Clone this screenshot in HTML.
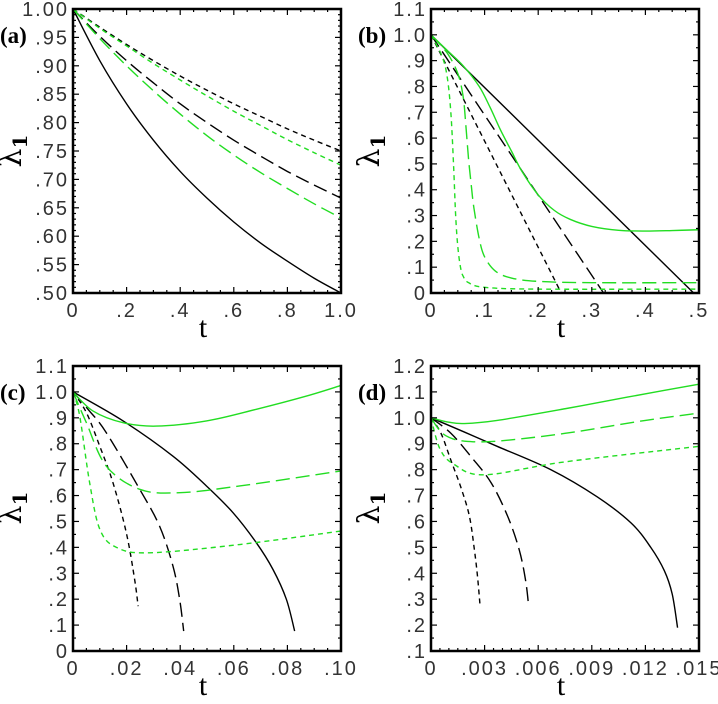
<!DOCTYPE html>
<html><head><meta charset="utf-8">
<style>
html,body{margin:0;padding:0;background:#fff;}
</style></head>
<body>
<svg id="fig" width="718" height="699" xmlns="http://www.w3.org/2000/svg" style="font-family:'Liberation Sans',sans-serif">
</svg>
<script>
// ---- Panel (a) data ----
const aT = [0,0.1,0.2,0.3,0.4,0.5,0.6,0.7,0.8,0.9,1.0];
const aBlackSolid = [1,0.909,0.833,0.769,0.714,0.667,0.625,0.588,0.556,0.526,0.5];
const aBlackLong = [1,0.952,0.909,0.870,0.833,0.800,0.769,0.741,0.714,0.690,0.667];
const aBlackShort = [1,0.968,0.9375,0.909,0.882,0.857,0.833,0.811,0.789,0.769,0.75];
const aGreenLong = [1,0.948,0.90,0.856,0.815,0.777,0.743,0.712,0.684,0.657,0.632];
const aGreenShort = [1,0.966,0.935,0.904,0.875,0.847,0.82,0.795,0.77,0.747,0.725];
// ---- Panel (b) data ----
const bBlackSolidT = [0,0.49]; const bBlackSolid = [1,0];
const bBlackLongT = [0,0.322]; const bBlackLong = [1,0];
const bBlackShortT = [0,0.243]; const bBlackShort = [1,0];
const bGreenSolidT = [0,0.03,0.06,0.09,0.11,0.13,0.15,0.17,0.2,0.23,0.26,0.3,0.35,0.4,0.45,0.5];
const bGreenSolid = [1,0.94,0.88,0.8,0.72,0.63,0.55,0.47,0.38,0.32,0.285,0.258,0.243,0.24,0.242,0.245];
const bGreenLongT = [0,0.03,0.05,0.06,0.065,0.07,0.075,0.08,0.09,0.1,0.12,0.15,0.2,0.3,0.5];
const bGreenLong = [1,0.93,0.85,0.76,0.65,0.52,0.42,0.33,0.21,0.14,0.085,0.058,0.045,0.04,0.04];
const bGreenShortT = [0,0.02,0.03,0.037,0.042,0.046,0.05,0.055,0.06,0.07,0.1,0.2,0.5];
const bGreenShort = [1,0.92,0.84,0.7,0.5,0.3,0.18,0.1,0.065,0.04,0.022,0.015,0.015];
// ---- Panel (c) data ----
const cGreenSolidT = [0,0.0075,0.0187,0.0311,0.0498,0.0684,0.0871,0.1];
const cGreenSolid = [1,0.926,0.881,0.868,0.888,0.933,0.984,1.025];
const cGreenLongT = [0,0.005,0.0124,0.0249,0.0398,0.0622,0.1];
const cGreenLong = [1,0.881,0.714,0.624,0.611,0.637,0.695];
const cGreenShortT = [0,0.0025,0.0062,0.01,0.0162,0.0286,0.0622,0.1];
const cGreenShort = [1,0.907,0.65,0.47,0.40,0.379,0.411,0.463];
const cBlackSolidT = [0,0.0187,0.0373,0.0498,0.0597,0.0684,0.0746,0.0796,0.0827];
const cBlackSolid = [1,0.888,0.752,0.637,0.534,0.418,0.315,0.20,0.077];
const cBlackLongT = [0,0.0056,0.0124,0.0249,0.0323,0.0373,0.0398,0.0413];
const cBlackLong = [1,0.933,0.843,0.624,0.482,0.328,0.199,0.077];
const cBlackShortT = [0,0.005,0.01,0.0149,0.0199,0.023,0.0243];
const cBlackShort = [1,0.92,0.79,0.65,0.456,0.276,0.173];
// ---- Panel (d) data ----
const dGreenSolidT = [0,0.001,0.00187,0.0037,0.0075,0.011,0.013,0.015];
const dGreenSolid = [1,0.983,0.978,0.99,1.035,1.08,1.105,1.13];
const dGreenLongT = [0,0.0005,0.001,0.00187,0.0037,0.0075,0.012,0.015];
const dGreenLong = [1,0.95,0.925,0.91,0.91,0.94,0.99,1.018];
const dGreenShortT = [0,0.0005,0.0013,0.003,0.0075,0.015];
const dGreenShort = [1,0.88,0.82,0.78,0.83,0.89];
const dBlackSolidT = [0,0.00187,0.0037,0.0067,0.0093,0.0112,0.0123,0.01306,0.0135,0.0138];
const dBlackSolid = [1,0.945,0.89,0.80,0.695,0.594,0.50,0.41,0.32,0.19];
const dBlackLongT = [0,0.00112,0.00224,0.00336,0.00429,0.00494,0.0053,0.00547];
const dBlackLong = [1,0.94,0.85,0.75,0.62,0.49,0.37,0.27];
const dBlackShortT = [0,0.00056,0.00112,0.00168,0.00215,0.00243,0.0026,0.00274];
const dBlackShort = [1,0.94,0.835,0.73,0.62,0.49,0.39,0.28];
// ---- tick labels ----
const aXTicks = [0,0.2,0.4,0.6,0.8,1.0]; const aXLabels = ["0",".2",".4",".6",".8","1.0"];
const aYTicks = [0.5,0.55,0.6,0.65,0.7,0.75,0.8,0.85,0.9,0.95,1.0];
const aYLabels = [".50",".55",".60",".65",".70",".75",".80",".85",".90",".95","1.00"];
const bXTicks = [0,0.1,0.2,0.3,0.4,0.5]; const bXLabels = ["0",".1",".2",".3",".4",".5"];
const bYTicks = [0,0.1,0.2,0.3,0.4,0.5,0.6,0.7,0.8,0.9,1.0,1.1];
const bYLabels = ["0",".1",".2",".3",".4",".5",".6",".7",".8",".9","1.0","1.1"];
const cXTicks = [0,0.02,0.04,0.06,0.08,0.1]; const cXLabels = ["0",".02",".04",".06",".08",".10"];
const cYTicks = bYTicks; const cYLabels = bYLabels;
const dXTicks = [0,0.003,0.006,0.009,0.012,0.015]; const dXLabels = ["0",".003",".006",".009",".012",".015"];
const dYTicks = [0.1,0.2,0.3,0.4,0.5,0.6,0.7,0.8,0.9,1.0,1.1,1.2];
const dYLabels = [".1",".2",".3",".4",".5",".6",".7",".8",".9","1.0","1.1","1.2"];

const NS = "http://www.w3.org/2000/svg";
const svg = document.getElementById('fig');
function mk(tag, attrs, parent){
  const e = document.createElementNS(NS, tag);
  for (const k in attrs) e.setAttribute(k, attrs[k]);
  (parent||svg).appendChild(e); return e;
}
const GREEN = "#22dd22";
const LONG = "14 6", SHORT = "5 4";

function smoothPath(pts){
  let d = 'M' + pts[0][0].toFixed(2) + ' ' + pts[0][1].toFixed(2);
  if (pts.length < 3){ for (let i=1;i<pts.length;i++) d += ' L' + pts[i][0].toFixed(2) + ' ' + pts[i][1].toFixed(2); return d; }
  for (let i=0;i<pts.length-1;i++){
    const p0 = pts[i-1]||pts[i], p1 = pts[i], p2 = pts[i+1], p3 = pts[i+2]||p2;
    const c1 = [p1[0]+(p2[0]-p0[0])/6, p1[1]+(p2[1]-p0[1])/6];
    const c2 = [p2[0]-(p3[0]-p1[0])/6, p2[1]-(p3[1]-p1[1])/6];
    d += ' C' + c1[0].toFixed(2)+' '+c1[1].toFixed(2)+' '+c2[0].toFixed(2)+' '+c2[1].toFixed(2)+' '+p2[0].toFixed(2)+' '+p2[1].toFixed(2);
  }
  return d;
}

function panel(key, label, box, xr, yr, xT, xL, yT, yL, xMinor, yMinor, series){
  const g = mk('g', {});
  
  
  const X = v => box.x0 + (v - xr[0]) / (xr[1] - xr[0]) * (box.x1 - box.x0);
  const Y = v => box.y1 - (v - yr[0]) / (yr[1] - yr[0]) * (box.y1 - box.y0);
  series.forEach(s => {
    const pts = s.t.map((t,i) => [X(t), Y(s.v[i])]);
    const p = mk('path', {d: smoothPath(pts), fill: 'none', stroke: s.c, 'stroke-width': 1.4, 'stroke-dasharray': s.dash || 'none'}, g);
    
    
  });
  const tk = mk('g', {stroke: '#000', 'stroke-width': 1.2}, g);
  
  
  for (let v = xr[0]; v <= xr[1] + 1e-9; v += xMinor){
    const x = X(v), major = xT.some(m => Math.abs(m - v) < xMinor/10), L = major ? 6 : 3;
    mk('line', {x1: x, x2: x, y1: box.y1, y2: box.y1 - L}, tk);
    mk('line', {x1: x, x2: x, y1: box.y0, y2: box.y0 + L}, tk);
  }
  for (let v = yr[0]; v <= yr[1] + 1e-9; v += yMinor){
    const y = Y(v), major = yT.some(m => Math.abs(m - v) < yMinor/10), L = major ? 6 : 3;
    mk('line', {x1: box.x0, x2: box.x0 + L, y1: y, y2: y}, tk);
    mk('line', {x1: box.x1, x2: box.x1 - L, y1: y, y2: y}, tk);
  }
  const fr = mk('rect', {x: box.x0, y: box.y0, width: box.x1 - box.x0, height: box.y1 - box.y0, fill: 'none', stroke: '#000', 'stroke-width': 2.5}, g);
  
  
  xT.forEach((v,i) => {
    const t = mk('text', {x: X(v), y: box.y1 + 24, 'font-size': 20, fill: '#333', 'text-anchor': 'middle', 'letter-spacing': 2}, g);
    t.textContent = xL[i];
    
    
  });
  yT.forEach((v,i) => {
    const t = mk('text', {x: box.x0 - 4, y: Y(v) + 7, 'font-size': 20, fill: '#333', 'text-anchor': 'end', 'letter-spacing': 2}, g);
    t.textContent = yL[i];
    
    
  });
  const xt = mk('text', {x: (box.x0 + box.x1)/2 - 4, y: box.y1 + 44, 'font-size': 30, fill: '#000', 'text-anchor': 'middle', style: "font-family:'Liberation Serif',serif"}, g);
  xt.textContent = 't';
  
  
  const cy = box.y0 + 142, cx = box.x0 - 52;
  const yt = mk('text', {x: cx, y: cy, 'font-size': 30, fill: '#000', 'text-anchor': 'middle', transform: 'rotate(-90 ' + cx + ' ' + cy + ')', style: "font-family:'DejaVu Serif',serif"}, g);
  yt.innerHTML = 'λ<tspan font-size="20" font-weight="bold" dy="6">1</tspan>';
  
  
  const pl = mk('text', {x: box.x0 - 73, y: box.y0 + 34, 'font-size': 23, fill: '#000', style: "font-family:'Liberation Serif',serif;font-weight:bold"}, g);
  pl.textContent = label;
  
  
}

panel('a', '(a)', {x0:73, x1:341, y0:9, y1:293}, [0,1], [0.5,1.0], aXTicks, aXLabels, aYTicks, aYLabels, 0.05, 0.01, [
  {n:'black-solid', t:aT, v:aBlackSolid, c:'#000'},
  {n:'black-long-dash', t:aT, v:aBlackLong, c:'#000', dash:LONG},
  {n:'black-short-dash', t:aT, v:aBlackShort, c:'#000', dash:SHORT},
  {n:'green-long-dash', t:aT, v:aGreenLong, c:GREEN, dash:LONG},
  {n:'green-short-dash', t:aT, v:aGreenShort, c:GREEN, dash:SHORT}
]);
panel('b', '(b)', {x0:431, x1:699, y0:9, y1:293}, [0,0.5], [0,1.1], bXTicks, bXLabels, bYTicks, bYLabels, 0.025, 0.05, [
  {n:'black-solid', t:bBlackSolidT, v:bBlackSolid, c:'#000'},
  {n:'black-long-dash', t:bBlackLongT, v:bBlackLong, c:'#000', dash:LONG},
  {n:'black-short-dash', t:bBlackShortT, v:bBlackShort, c:'#000', dash:SHORT},
  {n:'green-solid', t:bGreenSolidT, v:bGreenSolid, c:GREEN},
  {n:'green-long-dash', t:bGreenLongT, v:bGreenLong, c:GREEN, dash:LONG},
  {n:'green-short-dash', t:bGreenShortT, v:bGreenShort, c:GREEN, dash:SHORT}
]);
panel('c', '(c)', {x0:73, x1:341, y0:366, y1:651}, [0,0.1], [0,1.1], cXTicks, cXLabels, cYTicks, cYLabels, 0.005, 0.05, [
  {n:'black-solid', t:cBlackSolidT, v:cBlackSolid, c:'#000'},
  {n:'black-long-dash', t:cBlackLongT, v:cBlackLong, c:'#000', dash:LONG},
  {n:'black-short-dash', t:cBlackShortT, v:cBlackShort, c:'#000', dash:SHORT},
  {n:'green-solid', t:cGreenSolidT, v:cGreenSolid, c:GREEN},
  {n:'green-long-dash', t:cGreenLongT, v:cGreenLong, c:GREEN, dash:LONG},
  {n:'green-short-dash', t:cGreenShortT, v:cGreenShort, c:GREEN, dash:SHORT}
]);
panel('d', '(d)', {x0:431, x1:699, y0:366, y1:651}, [0,0.015], [0.1,1.2], dXTicks, dXLabels, dYTicks, dYLabels, 0.0005, 0.05, [
  {n:'black-solid', t:dBlackSolidT, v:dBlackSolid, c:'#000'},
  {n:'black-long-dash', t:dBlackLongT, v:dBlackLong, c:'#000', dash:LONG},
  {n:'black-short-dash', t:dBlackShortT, v:dBlackShort, c:'#000', dash:SHORT},
  {n:'green-solid', t:dGreenSolidT, v:dGreenSolid, c:GREEN},
  {n:'green-long-dash', t:dGreenLongT, v:dGreenLong, c:GREEN, dash:LONG},
  {n:'green-short-dash', t:dGreenShortT, v:dGreenShort, c:GREEN, dash:SHORT}
]);
</script>
</body></html>
